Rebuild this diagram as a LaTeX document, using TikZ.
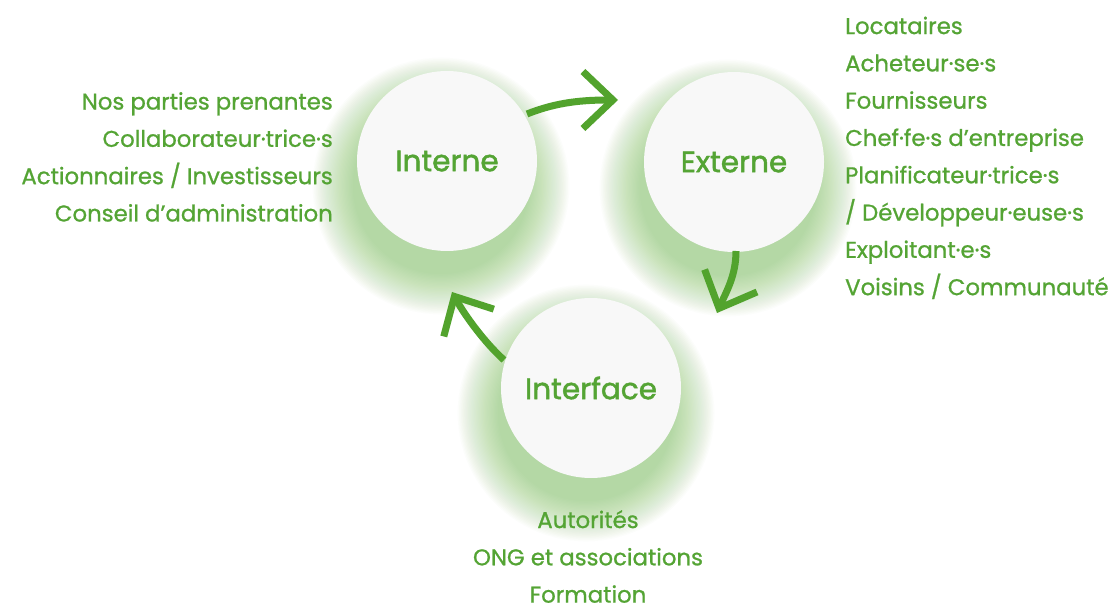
\documentclass[tikz,border=0pt]{standalone}
\usepackage{fontspec}
\setmainfont{Poppins}[FakeBold=0.9]
\newfontfamily\bubblefont{Poppins}[FakeBold=1.6]
\usetikzlibrary{arrows.meta}
\definecolor{txtgreen}{RGB}{84,164,52}
\definecolor{arrgreen}{RGB}{82,163,45}
\definecolor{glowgreen}{RGB}{120,190,85}
\definecolor{circfill}{RGB}{248,248,248}
\tikzset{
  bubble/.style={circle, fill=circfill, minimum size=180pt, inner sep=0pt,
    text=txtgreen, font=\bubblefont\fontsize{29.5}{34}\selectfont},
  glowlayer/.style={fill=glowgreen, opacity=0.021},
  listtext/.style={text=txtgreen, font=\fontsize{22.8}{37.3}\selectfont, inner sep=0pt},
  flow/.style={draw=arrgreen, line width=7pt,
    -{Straight Barb[length=30pt,width=57pt]}}
}
\begin{document}
\begin{tikzpicture}[x=1pt,y=-1pt]
\useasboundingbox (0,0) rectangle (1110,609);
\fill[white] (0,0) rectangle (1110,609);
% glows
\foreach \r in {0,...,31}{
  \fill[glowlayer] (441,186) circle (88+1.3*\r);
  \fill[glowlayer] (728,188) circle (88+1.3*\r);
  \fill[glowlayer] (586,413) circle (88+1.3*\r);
}
% bubbles
\node[bubble] (int) at (447,161) {Interne};
\node[bubble] (ext) at (734,162) {Externe};
\node[bubble] (itf) at (591,388) {Interface};
% arrow anchors
\coordinate (a1s) at (527,114);
\coordinate (a1e) at (618,100);
\coordinate (a2s) at (736,251);
\coordinate (a2e) at (717,313);
\coordinate (a3s) at (504,360);
\coordinate (a3e) at (452,292);
\draw[flow] (a1s) .. controls +(30,-12) and +(-35,0) .. (a1e);
\draw[flow] (a2s) .. controls +(0,25) and +(9,-21) .. (a2e);
\draw[flow] (a3s) .. controls +(-20,-18) and +(12,22) .. (a3e);
% lists
\node[listtext, align=right, anchor=north east] (lint) at (333,92)
  {Nos parties prenantes\\Collaborateur·trice·s\\Actionnaires / Investisseurs\\Conseil d’administration\hspace{7pt}};
\node[listtext, align=left, anchor=north west] (lext) at (845,16.5)
  {Locataires\\Acheteur·se·s\\Fournisseurs\\Chef·fe·s d’entreprise\\Planificateur·trice·s\\/ Développeur·euse·s\\Exploitant·e·s\\Voisins / Communauté};
\node[listtext, align=center, anchor=north] (litf) at (588,510)
  {Autorités\\ONG et associations\\Formation};
\end{tikzpicture}
\end{document}
